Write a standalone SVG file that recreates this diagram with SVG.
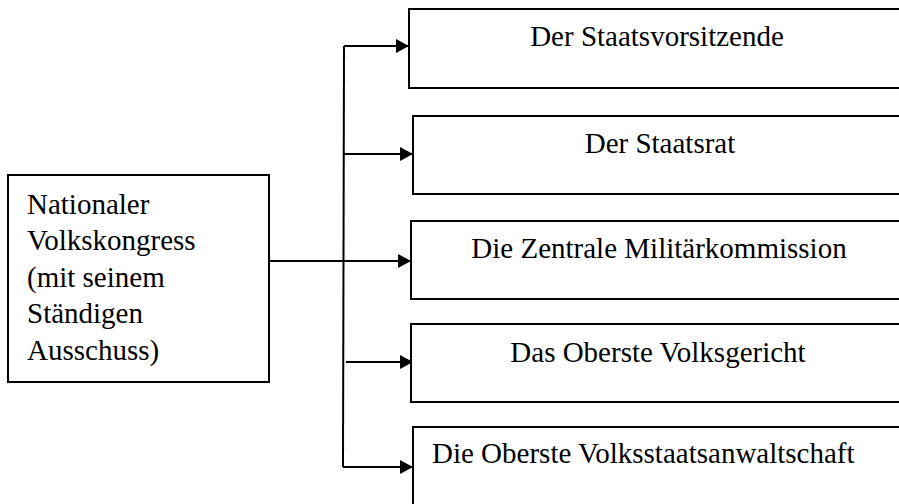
<svg xmlns="http://www.w3.org/2000/svg" width="899" height="504" viewBox="0 0 899 504">
<style>
.box{fill:#fff;stroke:#000;stroke-width:2}
.t{font-family:"Liberation Serif","Times New Roman",serif;font-size:29px;fill:#000}
.c{text-anchor:middle}
.ln{fill:none;stroke:#000;stroke-width:2}
</style>
<defs>
<marker id="ah" markerUnits="userSpaceOnUse" markerWidth="14" markerHeight="16" refX="13" refY="7" orient="auto">
<path d="M0,0 L13,7 L0,14 Z" fill="#000"/>
</marker>
</defs>
<rect width="899" height="504" fill="#fff"/>
<g id="connectors">
<path class="ln" d="M344,46 L343,467"/>
<path class="ln" d="M344,46 H409" marker-end="url(#ah)"/>
<path class="ln" d="M344,154 H413" marker-end="url(#ah)"/>
<path class="ln" d="M269,261 H411" marker-end="url(#ah)"/>
<path class="ln" d="M346,362 H413" marker-end="url(#ah)"/>
<path class="ln" d="M343,467 H413" marker-end="url(#ah)"/>
</g>
<g id="nvk">
<rect class="box" x="8" y="175" width="261" height="207"/>
<text class="t" x="27" y="214">Nationaler</text>
<text class="t" x="27" y="250">Volkskongress</text>
<text class="t" x="27" y="287">(mit seinem</text>
<text class="t" x="27" y="323">Ständigen</text>
<text class="t" x="27" y="360">Ausschuss)</text>
</g>
<g id="staatsvorsitzende">
<rect class="box" x="409" y="9" width="500" height="79"/>
<text class="t c" x="657" y="46">Der Staatsvorsitzende</text>
</g>
<g id="staatsrat">
<rect class="box" x="413" y="116" width="500" height="78"/>
<text class="t c" x="660" y="153">Der Staatsrat</text>
</g>
<g id="militaerkommission">
<rect class="box" x="411" y="221" width="500" height="78"/>
<text class="t c" x="659" y="258">Die Zentrale Militärkommission</text>
</g>
<g id="volksgericht">
<rect class="box" x="411" y="324" width="500" height="78"/>
<text class="t c" x="658" y="362">Das Oberste Volksgericht</text>
</g>
<g id="staatsanwaltschaft">
<rect class="box" x="413" y="427" width="500" height="100"/>
<text class="t" x="432" y="463">Die Oberste Volksstaatsanwaltschaft</text>
</g>
</svg>
